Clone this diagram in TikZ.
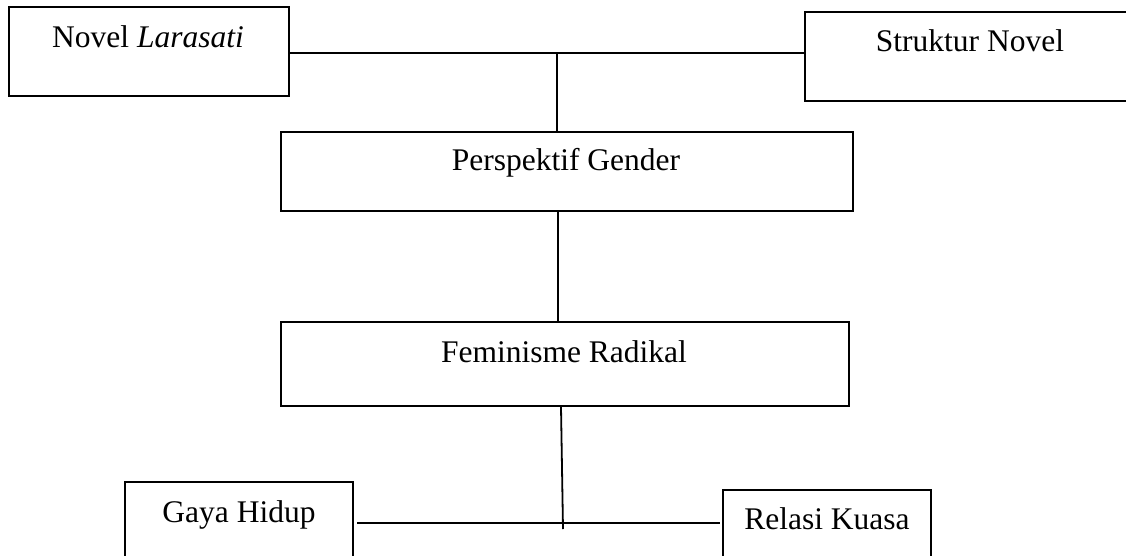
\documentclass[tikz,border=0pt]{standalone}
\usepackage{fontspec}
\setmainfont{Liberation Serif}
\tikzset{
  boxshape/.style={draw=black, line width=2pt, rectangle, inner sep=0pt},
  lbl/.style={anchor=base, inner sep=0pt, font=\fontsize{31.5}{38}\selectfont},
  conn/.style={draw=black, line width=1.8pt},
}
\begin{document}
\begin{tikzpicture}[x=1pt, y=-1pt]
\useasboundingbox (0,0) rectangle (1126,556);
\clip (0,0) rectangle (1126,556);
% boxes
\node[boxshape, minimum width=280.5pt, minimum height=89pt] (novel) at (149,51.5) {};
\node[boxshape, minimum width=330pt, minimum height=89pt] (struktur) at (970,56.5) {};
\node[boxshape, minimum width=572pt, minimum height=79pt] (persp) at (567,171.5) {};
\node[boxshape, minimum width=568pt, minimum height=84pt] (femin) at (565,364) {};
\node[boxshape, minimum width=228pt, minimum height=120pt] (gaya) at (239,542) {};
\node[boxshape, minimum width=208pt, minimum height=120pt] (relasi) at (827,550) {};
% labels
\node[lbl] (tnovel) at (148,48) {Novel \textit{Larasati}};
\node[lbl] (tstruk) at (970,52) {Struktur Novel};
\node[lbl] (tpersp) at (566,171) {Perspektif Gender};
\node[lbl] (tfemin) at (564,362) {Feminisme Radikal};
\node[lbl] (tgaya) at (239,522) {Gaya Hidup};
\node[lbl] (trelasi) at (827,529) {Relasi Kuasa};
% connectors
\coordinate (j1) at (557,53);
\coordinate (j2) at (563,529);
\coordinate (gl) at (357,523);
\coordinate (rl) at (720,523);
\draw[conn] (novel.east |- j1) -- (struktur.west |- j1);
\draw[conn] (j1) -- (j1 |- persp.north);
\draw[conn] (persp.south -| 558,0) -- (femin.north -| 558,0);
\draw[conn] (femin.south -| 561,0) -- (j2);
\draw[conn] (gl) -- (rl);
\end{tikzpicture}
\end{document}
